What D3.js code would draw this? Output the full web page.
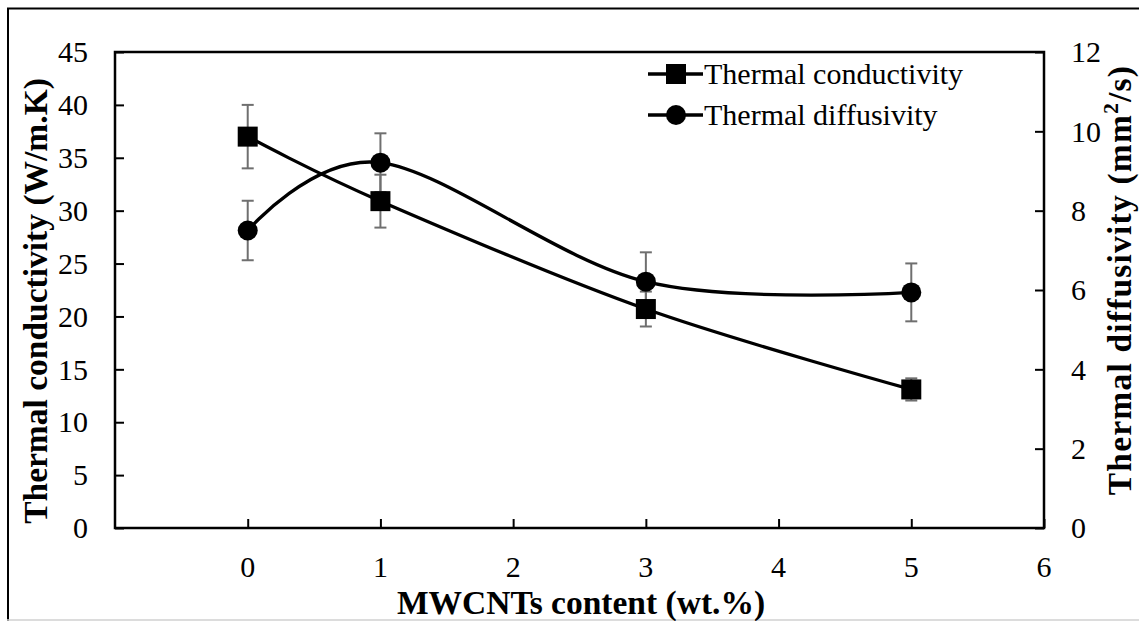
<!DOCTYPE html>
<html>
<head>
<meta charset="utf-8">
<script src="https://cdn.jsdelivr.net/npm/d3@7"></script>
<style>
  html, body { margin: 0; padding: 0; background: #fff; }
  svg { display: block; }
  text { font-family: "Liberation Serif", "Times New Roman", serif; fill: #000; }
</style>
</head>
<body>
<svg id="chart" width="1139" height="621"></svg>
<script>
// MWCNT content (wt.%)
const content = [0, 1, 3, 5];
// Thermal conductivity (W/m.K) and its error
const conductivity = [37.0, 30.9, 20.7, 13.1];
const conductivityErr = [3.0, 2.5, 1.65, 1.05];
// Thermal diffusivity (mm²/s) and its error
const diffusivity = [7.5, 9.21, 6.21, 5.94];
const diffusivityErr = [0.75, 0.74, 0.74, 0.73];

const xTicks = [0, 1, 2, 3, 4, 5, 6];
const yLeftTicks = [0, 5, 10, 15, 20, 25, 30, 35, 40, 45];
const yRightTicks = [0, 2, 4, 6, 8, 10, 12];

const seriesNames = ["Thermal conductivity", "Thermal diffusivity"];

const svg = d3.select("#chart");
const W = 1139, H = 621;
const plot = { left: 115, right: 1044, top: 52, bottom: 528 };

// outer chart frame
svg.append("line").attr("x1", 8).attr("x2", 8).attr("y1", 8).attr("y2", 621)
  .attr("stroke", "#000").attr("stroke-width", 2);
svg.append("line").attr("x1", 7).attr("x2", W).attr("y1", 8.5).attr("y2", 8.5)
  .attr("stroke", "#000").attr("stroke-width", 2);
svg.append("line").attr("x1", 7).attr("x2", W).attr("y1", 620).attr("y2", 620)
  .attr("stroke", "#d0d0d0").attr("stroke-width", 1.5);

const x = d3.scaleLinear().domain([-1, 6]).range([plot.left, plot.right]);
const yL = d3.scaleLinear().domain([0, 45]).range([plot.bottom, plot.top]);
const yR = d3.scaleLinear().domain([0, 12]).range([plot.bottom, plot.top]);

const FS = 30;      // tick labels and legend
const FT = 33.5;    // axis titles

// plot box
svg.append("rect")
  .attr("x", plot.left).attr("y", plot.top)
  .attr("width", plot.right - plot.left).attr("height", plot.bottom - plot.top)
  .attr("fill", "none").attr("stroke", "#000").attr("stroke-width", 2.5);

// axes with inward ticks
const axL = svg.append("g").attr("transform", `translate(${plot.left},0)`)
  .call(d3.axisRight(yL).tickValues(yLeftTicks).tickSize(9).tickFormat(""));
const axR = svg.append("g").attr("transform", `translate(${plot.right},0)`)
  .call(d3.axisLeft(yR).tickValues(yRightTicks).tickSize(9).tickFormat(""));
const axB = svg.append("g").attr("transform", `translate(0,${plot.bottom})`)
  .call(d3.axisTop(x).tickValues(xTicks).tickSize(9).tickFormat(""));
[axL, axR, axB].forEach(g => {
  g.select(".domain").remove();
  g.selectAll(".tick line").attr("stroke", "#000").attr("stroke-width", 2);
});

// tick labels
svg.append("g").selectAll("text").data(yLeftTicks).join("text")
  .attr("x", 88).attr("y", d => yL(d)).attr("dy", "0.34em")
  .attr("text-anchor", "end").attr("font-size", FS).text(d => d);
svg.append("g").selectAll("text").data(yRightTicks).join("text")
  .attr("x", 1071).attr("y", d => yR(d)).attr("dy", "0.34em")
  .attr("text-anchor", "start").attr("font-size", FS).text(d => d);
svg.append("g").selectAll("text").data(xTicks).join("text")
  .attr("x", d => x(d)).attr("y", 577)
  .attr("text-anchor", "middle").attr("font-size", FS).text(d => d);

// axis titles
svg.append("text").attr("x", 581).attr("y", 614)
  .attr("text-anchor", "middle").attr("font-size", FT).attr("font-weight", "bold")
  .text("MWCNTs content (wt.%)");
svg.append("text")
  .attr("transform", "translate(47,301) rotate(-90)")
  .attr("text-anchor", "middle").attr("font-size", FT).attr("font-weight", "bold")
  .text("Thermal conductivity (W/m.K)");
const rt = svg.append("text")
  .attr("transform", "translate(1131,280) rotate(-90)")
  .attr("text-anchor", "middle").attr("font-size", FT).attr("font-weight", "bold")
  .attr("letter-spacing", 1.2);
rt.append("tspan").text("Thermal diffusivity (mm");
rt.append("tspan").attr("font-size", FT * 0.65).attr("dy", "-0.62em").text("2");
rt.append("tspan").attr("dy", "0.40em").text("/s)");

const curve = d3.curveCardinal.tension(0);
const condPts = content.map((c, i) => ({ x: c, y: conductivity[i], e: conductivityErr[i] }));
const diffPts = content.map((c, i) => ({ x: c, y: diffusivity[i], e: diffusivityErr[i] }));

function errorBars(pts, y) {
  const g = svg.append("g").attr("stroke", "#6f6f6f").attr("stroke-width", 2);
  pts.forEach(p => {
    const cx = x(p.x), y1 = y(p.y + p.e), y2 = y(p.y - p.e);
    g.append("line").attr("x1", cx).attr("x2", cx).attr("y1", y1).attr("y2", y2);
    g.append("line").attr("x1", cx - 6).attr("x2", cx + 6).attr("y1", y1).attr("y2", y1);
    g.append("line").attr("x1", cx - 6).attr("x2", cx + 6).attr("y1", y2).attr("y2", y2);
  });
}

errorBars(condPts, yL);
errorBars(diffPts, yR);

const lineL = d3.line().x(d => x(d.x)).y(d => yL(d.y)).curve(curve);
const lineR = d3.line().x(d => x(d.x)).y(d => yR(d.y)).curve(curve);

svg.append("path").datum(condPts).attr("d", lineL)
  .attr("fill", "none").attr("stroke", "#000").attr("stroke-width", 3.3);
svg.append("path").datum(diffPts).attr("d", lineR)
  .attr("fill", "none").attr("stroke", "#000").attr("stroke-width", 3.3);

const SQ = 20, R = 10;
svg.append("g").selectAll("rect").data(condPts).join("rect")
  .attr("x", d => x(d.x) - SQ / 2).attr("y", d => yL(d.y) - SQ / 2)
  .attr("width", SQ).attr("height", SQ).attr("fill", "#000");
svg.append("g").selectAll("circle").data(diffPts).join("circle")
  .attr("cx", d => x(d.x)).attr("cy", d => yR(d.y)).attr("r", R).attr("fill", "#000");

// legend
const legend = svg.append("g");
const legRows = [74, 115];
const legX = 704;
seriesNames.forEach((name, i) => {
  const ly = legRows[i];
  legend.append("line").attr("x1", legX - 56).attr("x2", legX - 1).attr("y1", ly).attr("y2", ly)
    .attr("stroke", "#000").attr("stroke-width", 3.3);
  const mx = legX - 28;
  if (i === 0) {
    legend.append("rect").attr("x", mx - SQ / 2).attr("y", ly - SQ / 2)
      .attr("width", SQ).attr("height", SQ).attr("fill", "#000");
  } else {
    legend.append("circle").attr("cx", mx).attr("cy", ly).attr("r", R).attr("fill", "#000");
  }
  legend.append("text").attr("x", legX).attr("y", ly).attr("dy", "0.34em")
    .attr("font-size", FS).text(name);
});
</script>
</body>
</html>
